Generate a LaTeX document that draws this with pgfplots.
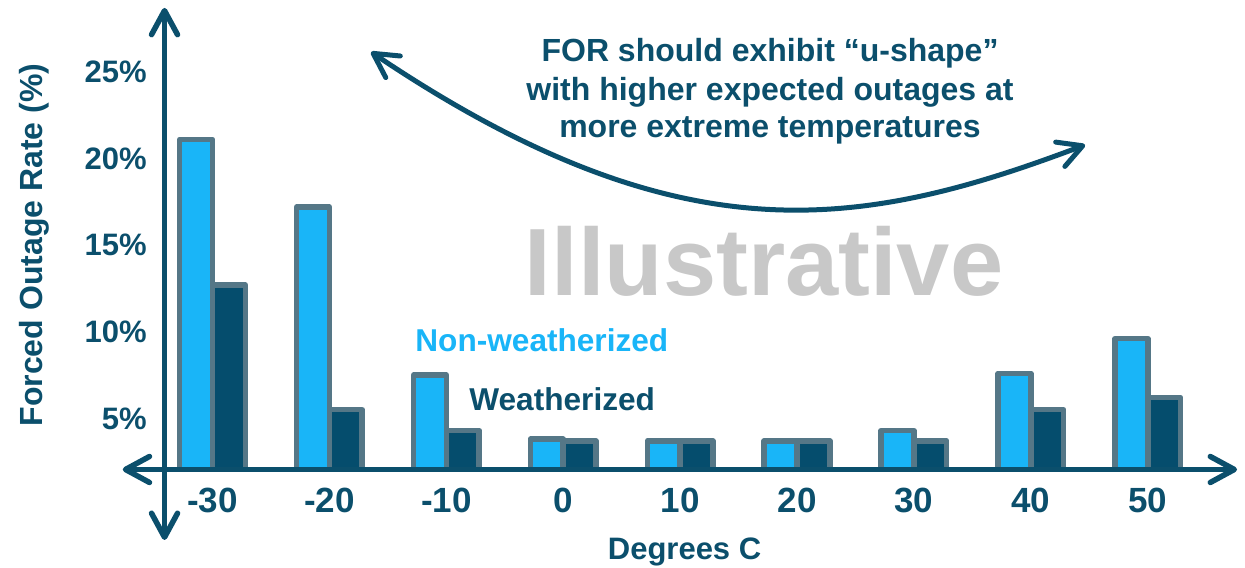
\documentclass[border=0pt]{standalone}
\usepackage{fontspec}
\setmainfont{Liberation Sans}
\usepackage{pgfplots}
\pgfplotsset{compat=1.18}
\usetikzlibrary{arrows.meta}
\definecolor{navy}{HTML}{0B4F6C}
\definecolor{lightbar}{HTML}{19B5F8}
\definecolor{darkbar}{HTML}{054D6D}
\definecolor{edge}{HTML}{557787}
\definecolor{watermark}{HTML}{C8C8C8}

% forced outage rate (%) by temperature
\pgfplotstableread{
temp nonw weath
-30 21.1 12.7
-20 17.2 5.5
-10 7.5 4.3
0 3.8 3.7
10 3.7 3.7
20 3.7 3.7
30 4.3 3.7
40 7.6 5.5
50 9.6 6.2
}\fordata

\begin{document}
\begin{tikzpicture}[font=\bfseries, >={Straight Barb[length=12pt,width=13pt,round]}]
\begin{axis}[
  x=5.845pt, y=8.66pt,
  xmin=-34.1, xmax=58, ymin=2.05, ymax=29,
  axis line style={draw=none},
  major tick length=0pt,
  ybar=0pt, bar width=16.4pt,
  xtick={-30,-20,...,50},
  xticklabels={-30,-20,-10,0,10,20,30,40,50},
  ytick={5,10,15,20,25},
  yticklabels={5\%,10\%,15\%,20\%,25\%},
  xticklabel style={font=\fontsize{17.5}{20}\selectfont\bfseries, text=navy,
    anchor=north, inner sep=0pt, yshift=-9.25pt},
  yticklabel style={font=\fontsize{15.5}{18}\selectfont\bfseries, text=navy,
    anchor=east, inner sep=0pt, xshift=-8.75pt},
  every axis plot/.append style={draw=edge, line width=2.75pt, line join=round},
]
\addplot[fill=lightbar] table[x=temp, y=nonw] {\fordata};
\addplot[fill=darkbar] table[x=temp, y=weath] {\fordata};

\coordinate (bb1) at (axis cs:-48.18,-3.637);
\coordinate (bb2) at (axis cs:58.32,29.157);
\coordinate (ytop) at (axis cs:-34.106,28.70);
\coordinate (ybot) at (axis cs:-34.106,-2.02);
\coordinate (xl) at (axis cs:-37.68,2.05);
\coordinate (xr) at (axis cs:57.64,2.05);
\coordinate (c1) at (axis cs:-16.44,26.155);
\coordinate (c2) at (axis cs:9.99,14.15);
\coordinate (c3) at (axis cs:25.39,15.88);
\coordinate (c4) at (axis cs:44.64,20.79);
\coordinate (ylab) at (axis cs:-45.27,15.01);
\coordinate (xlab) at (axis cs:10.38,-3.12);
\coordinate (t1) at (axis cs:17.69,25.58);
\coordinate (t2) at (axis cs:17.69,23.38);
\coordinate (t3) at (axis cs:17.69,21.22);
\coordinate (ill) at (axis cs:17.18,12.12);
\coordinate (nw) at (axis cs:-12.68,8.89);
\coordinate (w) at (axis cs:-8.06,5.44);
\end{axis}

\node[text=watermark, anchor=base, inner sep=0pt, font=\fontsize{47.8}{50}\selectfont\bfseries] at (ill) {Illustrative};

\draw[navy, line width=2.75pt, <->] (ybot) -- (ytop);
\draw[navy, line width=2.75pt, <->] (xl) -- (xr);
\draw[navy, line width=2.5pt, <->] (c1) .. controls (c2) and (c3) .. (c4);

\begin{scope}[every node/.style={text=navy, inner sep=0pt, font=\fontsize{16}{18}\selectfont\bfseries}]
\node[anchor=base] at (t1) {FOR should exhibit “u-shape”};
\node[anchor=base] at (t2) {with higher expected outages at};
\node[anchor=base] at (t3) {more extreme temperatures};
\end{scope}

\node[text=lightbar, anchor=base west, inner sep=0pt, font=\fontsize{15.8}{18}\selectfont\bfseries] at (nw) {Non-weatherized};
\node[text=navy, anchor=base west, inner sep=0pt, font=\fontsize{15.8}{18}\selectfont\bfseries] at (w) {Weatherized};

\node[text=navy, rotate=90, inner sep=0pt, font=\fontsize{16}{18}\selectfont\bfseries] at (ylab) {Forced Outage Rate (\%)};
\node[text=navy, anchor=base, inner sep=0pt, font=\fontsize{15.5}{18}\selectfont\bfseries] at (xlab) {Degrees C};

\pgfresetboundingbox
\path[use as bounding box] (bb1) rectangle (bb2);
\end{tikzpicture}
\end{document}
